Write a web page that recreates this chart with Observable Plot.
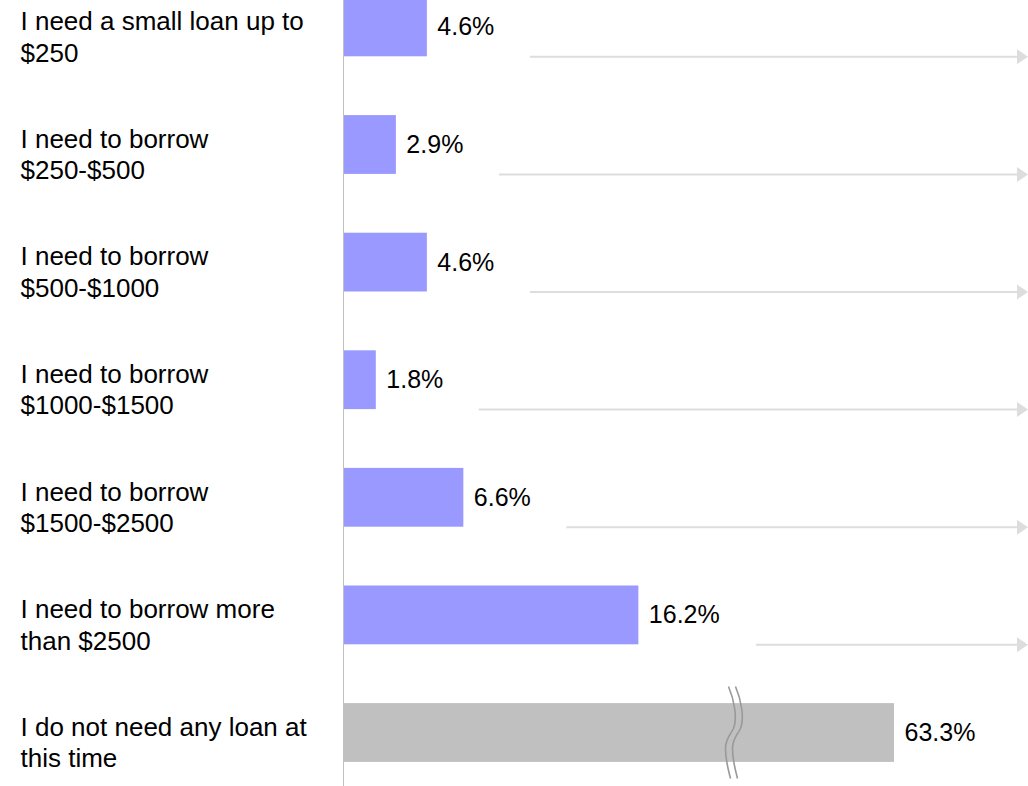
<!DOCTYPE html>
<html>
<head>
<meta charset="utf-8">
<script src="https://cdn.jsdelivr.net/npm/d3@7"></script>
<script src="https://cdn.jsdelivr.net/npm/@observablehq/plot@0.6"></script>
<style>
  html, body { margin: 0; padding: 0; background: #ffffff; }
  #chart svg { display: block; }
</style>
</head>
<body>
<div id="chart"></div>
<script>
// ---- Data ----
const categories = [
  "I need a small loan up to\n$250",
  "I need to borrow\n$250-$500",
  "I need to borrow\n$500-$1000",
  "I need to borrow\n$1000-$1500",
  "I need to borrow\n$1500-$2500",
  "I need to borrow more\nthan $2500",
  "I do not need any loan at\nthis time"
];
const values = [4.6, 2.9, 4.6, 1.8, 6.6, 16.2, 63.3];
const valueLabels = ["4.6%", "2.9%", "4.6%", "1.8%", "6.6%", "16.2%", "63.3%"];
const noLoanCategory = "I do not need any loan at\nthis time";
const breakValue = 21.5;   // where the value axis is broken
const axisMax = 100;       // arrows run to 100%

// ---- Styles ----
const purple = "#9999ff";
const grey = "#c0c0c0";
const fontFamily = "'Liberation Sans', Arial, Helvetica, sans-serif";

const data = categories.map((c, i) => ({
  category: c,
  value: values[i],
  label: valueLabels[i],
  noLoan: c === noLoanCategory
}));

// arrows to the right edge, below each loan bar
function arrowsMark(index, scales) {
  const g = d3.create("svg:g");
  const bw = scales.y.bandwidth ? scales.y.bandwidth() : 0;
  const xEnd = scales.x(axisMax);
  for (const d of data) {
    if (d.noLoan) continue;
    const y = scales.y(d.category) + bw + 0.5;
    const xStart = scales.x(d.value) + 8 + d.label.length * 14.5 + 37;
    g.append("line")
      .attr("x1", xStart).attr("x2", xEnd - 10)
      .attr("y1", y).attr("y2", y)
      .attr("stroke", "#dddddd").attr("stroke-width", 2);
    g.append("path")
      .attr("d", `M${xEnd - 11},${y - 7.5}L${xEnd},${y}L${xEnd - 11},${y + 7.5}Z`)
      .attr("fill", "#dddddd");
  }
  return g.node();
}

// axis-break symbol across the "no loan" bar
function breakMark(index, scales) {
  const g = d3.create("svg:g");
  const bw = scales.y.bandwidth ? scales.y.bandwidth() : 0;
  const cx = scales.x(breakValue);
  const cy = scales.y(noLoanCategory) + bw / 2;
  const shape = "M -4 -46 C 2 -32 5 -14 1 -4 C -2 2 -7 6 -7 16 C -7 28 -4 38 -2 46";
  for (const off of [-2.5, 4.5]) {
    g.append("path")
      .attr("transform", `translate(${cx + off},${cy})`)
      .attr("d", shape)
      .attr("fill", "none")
      .attr("stroke", "#999999")
      .attr("stroke-width", 1.6);
  }
  return g.node();
}

const chart = Plot.plot({
  width: 1028,
  height: 786,
  marginTop: 0,
  marginRight: 0,
  marginBottom: 0,
  marginLeft: 0,
  style: { fontFamily, background: "#ffffff", color: "#000000" },
  x: {
    type: "linear",
    domain: [0, breakValue, d3.max(values), axisMax],
    range: [343, 735, 894, 1028],
    axis: null
  },
  y: {
    type: "band",
    domain: categories,
    range: [-61.3, 820.7],
    padding: 0.5,
    round: false,
    axis: null
  },
  marks: [
    Plot.barX(data, {
      x: "value",
      y: "category",
      fill: d => d.noLoan ? grey : purple
    }),
    Plot.ruleX([0], { stroke: grey, strokeWidth: 1 }),
    Plot.text(data, {
      y: "category",
      text: "category",
      frameAnchor: "left",
      textAnchor: "start",
      lineAnchor: "top",
      lineHeight: 1.21,
      dx: 20,
      dy: -19.5,
      fontSize: 26,
      fill: "#000000"
    }),
    Plot.text(data, {
      x: "value",
      y: "category",
      text: "label",
      textAnchor: "start",
      dx: 10,
      dy: 0,
      fontSize: 25,
      fill: "#000000"
    }),
    arrowsMark,
    breakMark
  ]
});

document.getElementById("chart").appendChild(chart);
</script>
</body>
</html>
